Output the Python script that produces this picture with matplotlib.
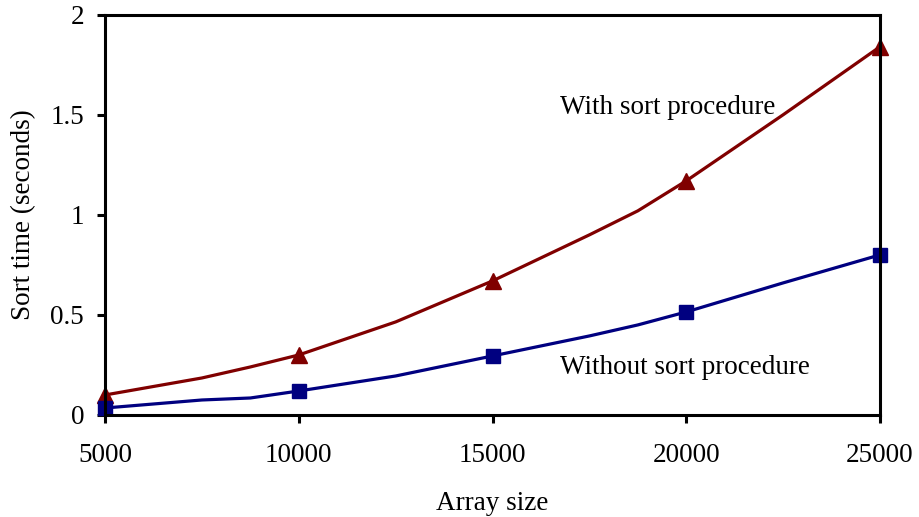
import matplotlib
matplotlib.use("Agg")
import matplotlib.pyplot as plt

# Marker data
sizes = [5000, 10000, 15000, 20000, 25000]
with_sort = [0.10, 0.30, 0.67, 1.17, 1.84]
without_sort = [0.035, 0.12, 0.295, 0.515, 0.80]

# Line vertices (smoothed curve as drawn)
line_sizes = [5000, 7500, 8750, 10000, 12500, 15000, 17500, 18750, 20000, 22500, 25000]
with_line = [0.10, 0.185, 0.24, 0.30, 0.465, 0.67, 0.90, 1.02, 1.17, 1.50, 1.84]
without_line = [0.035, 0.075, 0.085, 0.12, 0.195, 0.295, 0.395, 0.45, 0.515, 0.66, 0.80]

x_ticks = [5000, 10000, 15000, 20000, 25000]
y_ticks = [0, 0.5, 1, 1.5, 2]
y_tick_labels = ["0", "0.5", "1", "1.5", "2"]

red = "#800000"
blue = "#000080"

plt.rcParams["font.family"] = ["Liberation Serif", "DejaVu Serif"]

fig = plt.figure(figsize=(9.19, 5.17), dpi=100)
ax = fig.add_axes([0.1143, 0.1973, 0.8433, 0.7743])

ax.plot(line_sizes, with_line, color=red, lw=2.3, solid_joinstyle="round", clip_on=False)
ax.plot(sizes, with_sort, linestyle="none", marker="^", color=red, markersize=11, clip_on=False)
ax.plot(line_sizes, without_line, color=blue, lw=2.3, solid_joinstyle="round", clip_on=False)
ax.plot(sizes, without_sort, linestyle="none", marker="s", color=blue, markersize=9.5, clip_on=False)

ax.set_xlim(5000, 25000)
ax.set_ylim(0, 2)
ax.set_xticks(x_ticks)
ax.set_xticklabels([str(v) for v in x_ticks])
ax.set_yticks(y_ticks)
ax.set_yticklabels(y_tick_labels)

for s in ax.spines.values():
    s.set_linewidth(2.2)
    s.set_color("black")

ax.tick_params(axis="both", direction="out", length=6, width=2.2, labelsize=19.5, colors="black")
ax.tick_params(axis="x", pad=14)
ax.tick_params(axis="y", pad=9)

ax.set_xlabel("Array size", fontsize=19.5, labelpad=17)
ax.set_ylabel("Sort time (seconds)", fontsize=19.5, labelpad=10)

fig.text(560 / 919, 1 - 108 / 517, "With sort procedure", fontsize=19.5, va="center", ha="left")
fig.text(560 / 919, 1 - 368 / 517, "Without sort procedure", fontsize=19.5, va="center", ha="left")

fig.savefig("out.png", dpi=100)
